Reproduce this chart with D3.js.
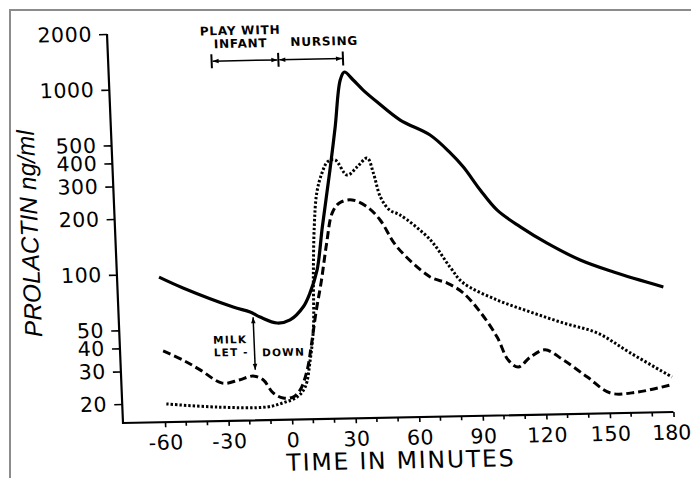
<!DOCTYPE html>
<html lang="en">
<head>
<meta charset="UTF-8">
<script src="https://d3js.org/d3.v7.min.js"></script>
<title>Prolactin during nursing</title>
<style>
  body { margin: 0; background: #fff; }
  .tick text { font-family: "DejaVu Sans", sans-serif; font-size: 20.5px; letter-spacing: 0.6px; fill: #000; }
  .tick line { stroke: #000; stroke-width: 1.6; }
  .note { font-family: "DejaVu Sans", sans-serif; font-weight: bold; fill: #000; }
</style>
<script>
// axis ticks
var yTicks = [20, 30, 40, 50, 100, 200, 300, 400, 500, 1000, 2000];
var xTicks = [-60, -30, 0, 30, 60, 90, 120, 150, 180];
var xMinorTicks = [-50, -40, -20, -10, 10, 20, 40, 50, 70, 80, 100, 110, 130, 140, 160, 170];

// prolactin (ng/ml) against time (min)
var solidTime  = [-60, -48.9, -25.6, -17.7, -13.1, -5.2, 1, 7.4, 10.9, 14.7, 18, 22.7, 26, 29.3, 31.4, 35.4, 39.9, 46.3, 56.8, 70.6, 79.8, 85.7, 93.2, 100.8, 111.4, 123.7, 139, 154.5, 177.7];
var solidLevel = [96, 83.4, 65, 60.8, 57, 52.7, 54.6, 63.9, 76, 101, 172, 349, 595, 1066, 1175, 1062, 935, 803, 638, 526, 419, 350, 262, 203, 164, 133, 107, 91.4, 75];

var dashTime  = [-59.5, -50.3, -42.4, -32.2, -24.2, -17.6, -12.9, -8.4, -3.8, 0.9, 4.4, 8.1, 10.5, 13.4, 16.5, 19.7, 22.9, 26.5, 32.5, 39.6, 45.4, 52.8, 67.9, 75.8, 83.2, 90.8, 98.3, 103.1, 107.7, 113.6, 120.7, 129.1, 140.1, 150.7, 163.3, 179.1];
var dashLevel = [38.3, 34, 30, 25.3, 26.2, 27.4, 26.1, 22.1, 20.7, 20.9, 22.8, 29.2, 39.5, 60, 88, 140, 204, 231, 239, 218, 185, 132, 90, 83, 73.1, 57.5, 41.9, 31.4, 28.7, 32.4, 35.3, 31, 24.9, 20.3, 20.4, 22.1];

var dotTime  = [-59, -35, -11.5, -3.9, 2.8, 6.8, 9.7, 11.9, 12.8, 14.2, 16, 18.8, 21.8, 25.3, 30.7, 35.6, 40.5, 43.1, 46, 50, 54.9, 68.6, 77.5, 83.4, 99.1, 114.4, 129.8, 145.6, 160.8, 180];
var dotLevel = [19.8, 18.8, 18.6, 19.5, 20.9, 23.6, 33, 50, 93, 173, 262, 335, 387, 395, 326, 360, 401, 333, 246, 209, 196, 143, 101, 82.8, 66.4, 56.8, 49.1, 43, 33.3, 24.4];

// phases marked above the curves
var phaseLabels = [["PLAY WITH", "INFANT"], ["NURSING"]];
var phaseStart = [-31, 0.5];
var phaseEnd = [0.5, 31];
var phaseLabelTime = [-17, 22.5];
var bracketLevel = 1390;

// milk let-down arrow
var letdownTime = -16.4, letdownFrom = 57, letdownTo = 29.6;

function main(){
  var svg = d3.select("svg");
  var ox = 123, oy = 423;
  var x = d3.scaleLinear().domain([-60, 180]).range([165, 673.5]);
  var y = d3.scaleLog().domain([20, 2000]).range([404, 33.7]);

  svg.append("path").attr("d", "M10,478V10H691")
    .attr("fill", "none").attr("stroke", "#8c8c8c").attr("stroke-width", 2);

  var defs = svg.append("defs");
  defs.append("marker").attr("id", "head")
    .attr("viewBox", "0 -4 8 8").attr("refX", 8).attr("refY", 0)
    .attr("markerWidth", 7).attr("markerHeight", 6)
    .attr("markerUnits", "userSpaceOnUse").attr("orient", "auto-start-reverse")
    .append("path").attr("d", "M0,-3L8,0L0,3Z").attr("fill", "#000");

  // the scanned figure is a little skewed
  var sa = 0.020, sb = 0.0411;
  var g = svg.append("g").attr("transform",
    "translate(" + ox + "," + oy + ") matrix(" + Math.sqrt(1 - sa * sa) + "," + (-sa) + "," + sb + "," +
    Math.sqrt(1 - sb * sb) + ",0,0) translate(" + (-ox) + "," + (-oy) + ")");

  var yAxis = g.append("g").attr("transform", "translate(" + ox + ",0)")
    .call(d3.axisLeft(y).tickValues(yTicks).tickFormat(function(d){ return String(d); }).tickSize(8).tickPadding(7));
  yAxis.select(".domain").remove();

  var xAxis = g.append("g").attr("transform", "translate(0," + oy + ")")
    .call(d3.axisBottom(x).tickValues(xTicks).tickFormat(function(d){ return String(d); }).tickSize(5).tickPadding(8));
  xAxis.select(".domain").remove();
  // keep the last label inside the page
  xAxis.selectAll(".tick text").filter(function(d){ return d === 180; })
    .attr("dx", -3).style("letter-spacing", "0px");

  g.append("g").selectAll("line").data(xMinorTicks).enter().append("line")
    .attr("x1", function(d){ return x(d); }).attr("x2", function(d){ return x(d); })
    .attr("y1", oy).attr("y2", oy + 4)
    .attr("stroke", "#000").attr("stroke-width", 1.6);

  g.append("path").attr("d", "M" + ox + "," + y(2000) + "V" + oy + "H" + x(180))
    .attr("fill", "none").attr("stroke", "#000").attr("stroke-width", 2.2);

  g.append("text")
    .attr("transform", "translate(45.8,231.8) rotate(-90)")
    .attr("text-anchor", "middle")
    .style("font-family", "'Liberation Sans', Arial, sans-serif")
    .style("font-style", "italic").style("font-size", "24.5px")
    .text("PROLACTIN ng/ml");

  g.append("text")
    .attr("x", 399.2).attr("y", 474)
    .attr("text-anchor", "middle")
    .style("font-family", "'DejaVu Sans', sans-serif")
    .style("font-size", "23.5px").style("letter-spacing", "1.8px")
    .text("TIME IN MINUTES");

  var line = d3.line()
    .x(function(d){ return x(d[0]); })
    .y(function(d){ return y(d[1]); })
    .curve(d3.curveCatmullRom.alpha(0.5));

  g.append("path").datum(d3.zip(dotTime, dotLevel)).attr("d", line)
    .attr("fill", "none").attr("stroke", "#000").attr("stroke-width", 3)
    .attr("stroke-dasharray", "2.4,2");
  g.append("path").datum(d3.zip(dashTime, dashLevel)).attr("d", line)
    .attr("fill", "none").attr("stroke", "#000").attr("stroke-width", 3)
    .attr("stroke-dasharray", "8,4");
  g.append("path").datum(d3.zip(solidTime, solidLevel)).attr("d", line)
    .attr("fill", "none").attr("stroke", "#000").attr("stroke-width", 3.2);

  // phase brackets
  var by = y(bracketLevel);
  phaseLabels.forEach(function(lines, i){
    g.append("line")
      .attr("x1", x(phaseStart[i]) + 1).attr("x2", x(phaseEnd[i]) - 1)
      .attr("y1", by).attr("y2", by)
      .attr("stroke", "#000").attr("stroke-width", 1.5)
      .attr("marker-start", "url(#head)").attr("marker-end", "url(#head)");
    lines.forEach(function(t, k){
      g.append("text").attr("class", "note")
        .attr("x", x(phaseLabelTime[i])).attr("y", by - 13 - 13 * (lines.length - 1 - k) - (lines.length == 1 ? 0.5 : 0))
        .attr("text-anchor", "middle")
        .style("font-size", "12px").style("letter-spacing", "0.8px")
        .text(t);
    });
  });
  var edges = [phaseStart[0], phaseStart[1], phaseEnd[1]];
  g.selectAll(".edge").data(edges).enter().append("line").attr("class", "edge")
    .attr("x1", function(d){ return x(d); }).attr("x2", function(d){ return x(d); })
    .attr("y1", by - 7).attr("y2", by + 7)
    .attr("stroke", "#000").attr("stroke-width", 2);

  // milk let-down
  var ax = x(letdownTime);
  var mid = (y(letdownFrom) + y(letdownTo)) / 2;
  g.append("line")
    .attr("x1", ax).attr("x2", ax)
    .attr("y1", y(letdownFrom)).attr("y2", y(letdownTo))
    .attr("stroke", "#000").attr("stroke-width", 1.5)
    .attr("marker-start", "url(#head)").attr("marker-end", "url(#head)");
  var notes = [["MILK", -40.8, -0.6], ["LET -", -40.8, 12], ["DOWN", 7.6, 13]];
  notes.forEach(function(n){
    g.append("text").attr("class", "note")
      .attr("x", ax + n[1]).attr("y", mid + n[2])
      .style("font-size", "10.5px").style("letter-spacing", "1.2px")
      .text(n[0]);
  });
}
</script>
</head>
<body onload="main();">
<svg width="691" height="478"></svg>
</body>
</html>
